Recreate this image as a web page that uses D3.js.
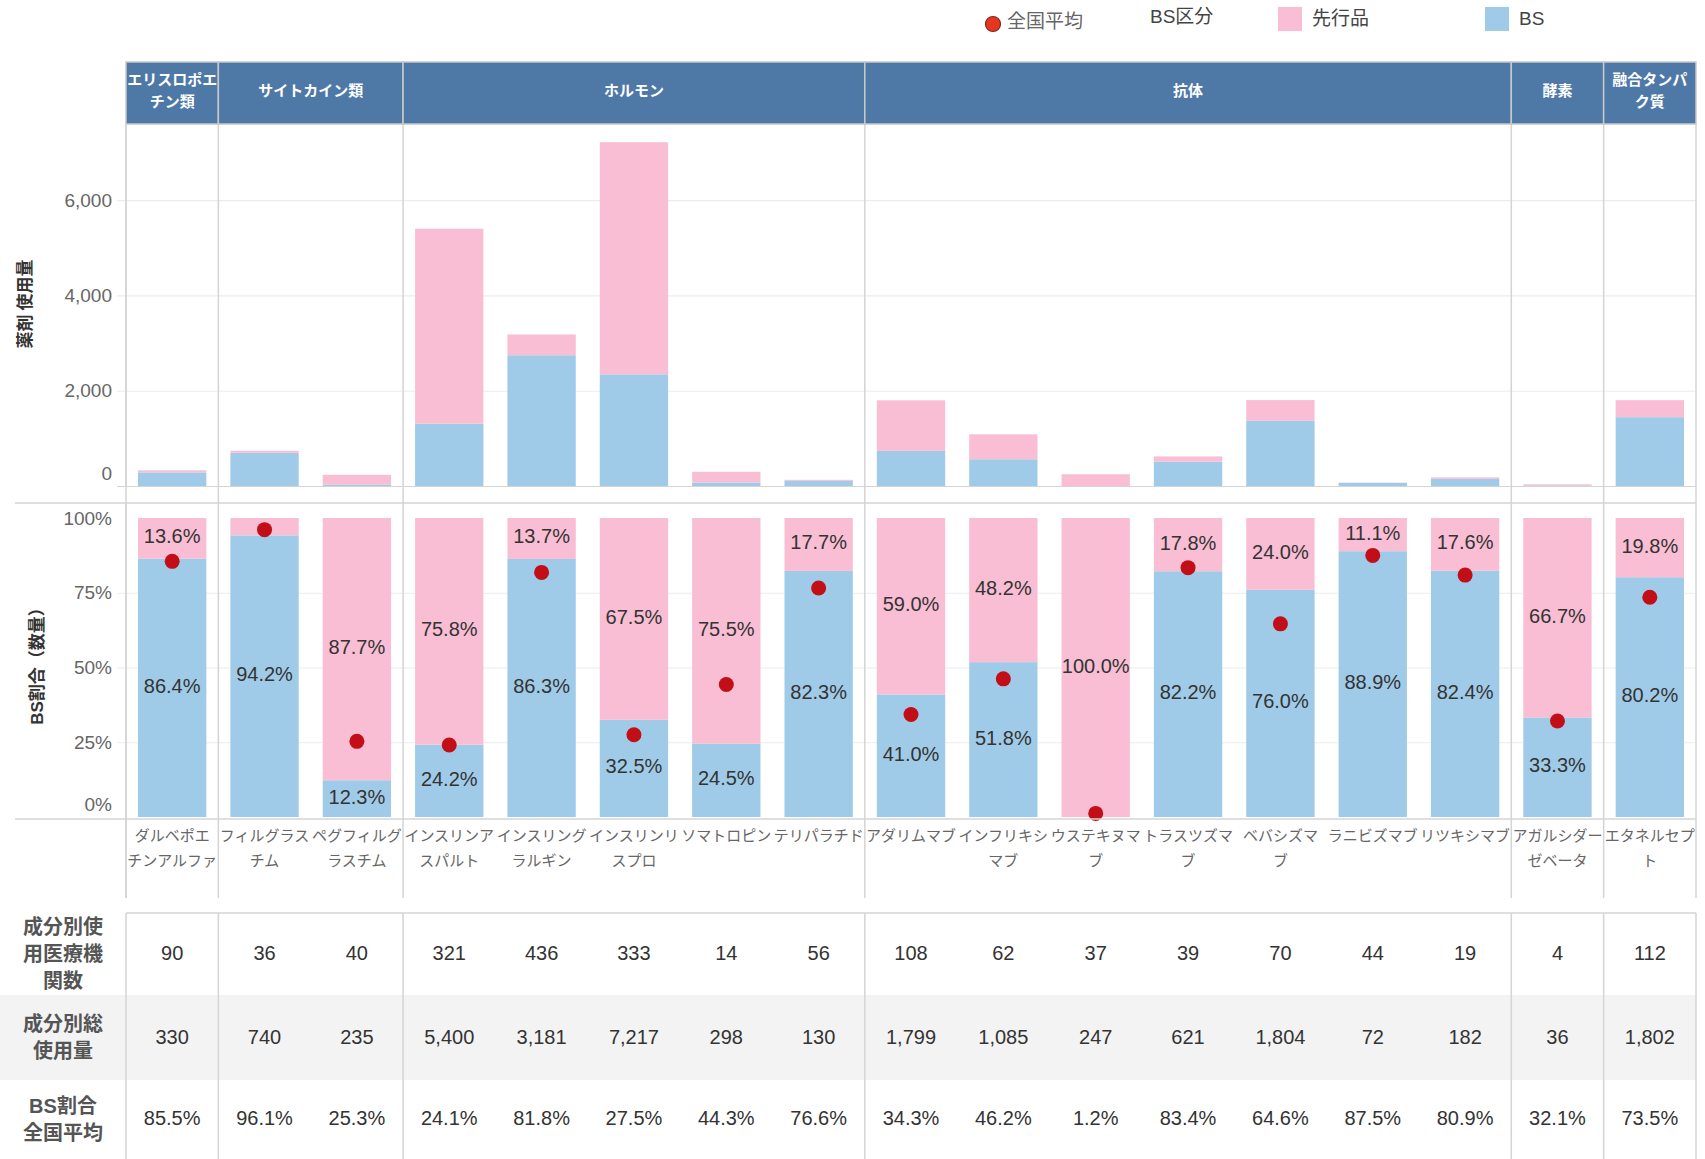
<!DOCTYPE html>
<html>
<head>
<meta charset="utf-8">
<script src="https://cdn.jsdelivr.net/npm/d3@7"></script>
<style>
  body { margin: 0; background: #fff; }
  text { font-family: "Liberation Sans", "Noto Sans CJK JP", sans-serif; }
  .jp { font-family: "Noto Sans CJK JP", sans-serif; }
</style>
</head>
<body>
<div id="chart"></div>
<script>
// data
var drugs = ["ダルベポエ\nチンアルファ", "フィルグラス\nチム", "ペグフィルグ\nラスチム", "インスリンア\nスパルト",
             "インスリング\nラルギン", "インスリンリ\nスプロ", "ソマトロピン", "テリパラチド", "アダリムマブ",
             "インフリキシ\nマブ", "ウステキヌマ\nブ", "トラスツズマ\nブ", "ベバシズマ\nブ", "ラニビズマブ",
             "リツキシマブ", "アガルシダー\nゼベータ", "エタネルセプ\nト"];
var groups = ["エリスロポエ\nチン類", "サイトカイン類", "ホルモン", "抗体", "酵素", "融合タンパ\nク質"];
var drugGroup = [0, 1, 1, 2, 2, 2, 2, 2, 3, 3, 3, 3, 3, 3, 3, 4, 5];
var totalUse = [330, 740, 235, 5400, 3181, 7217, 298, 130, 1799, 1085, 247, 621, 1804, 72, 182, 36, 1802];
var bsShare = [86.4, 94.2, 12.3, 24.2, 86.3, 32.5, 24.5, 82.3, 41.0, 51.8, 0.0, 82.2, 76.0, 88.9, 82.4, 33.3, 80.2];
var natAvg = [85.5, 96.1, 25.3, 24.1, 81.8, 27.5, 44.3, 76.6, 34.3, 46.2, 1.2, 83.4, 64.6, 87.5, 80.9, 32.1, 73.5];
var hospitals = [90, 36, 40, 321, 436, 333, 14, 56, 108, 62, 37, 39, 70, 44, 19, 4, 112];
var useTicks = [0, 2000, 4000, 6000];
var shareTicks = [0, 0.25, 0.5, 0.75, 1];
var rowTitles = ["成分別使\n用医療機\n関数", "成分別総\n使用量", "BS割合\n全国平均"];
var legendItems = ["先行品", "BS"];

var W = 1705, H = 1159,
    left = 126, right = 1696,
    headTop = 62, headBot = 124,
    topBase = 486,
    botTop = 503, botBot = 819,
    labBot = 898,
    tabTop = 913;

var pink = "#f9bed3", blue = "#a0cbe8", line = "#d4d4d4", grid = "#ececec";

// rows built from the arrays
var rows = drugs.map(function(d, i) {
  var bs = totalUse[i] * bsShare[i] / 100;
  return { i: i, bs: bs, orig: totalUse[i] - bs, bsP: bsShare[i] / 100, origP: 1 - bsShare[i] / 100 };
});

var svg = d3.select("#chart").append("svg")
  .attr("width", W).attr("height", H)
  .style("display", "block");

// scales
var xCol = d3.scaleBand().domain(d3.range(drugs.length)).range([left, right]);
var x = d3.scaleBand().domain(d3.range(drugs.length)).range([left, right])
  .paddingInner(0.26).paddingOuter(0.13);
var yUse = d3.scaleLinear().domain([0, 7600]).range([topBase, headBot]);
var yShare = d3.scaleLinear().domain([0, 1]).range([817, 518]);
var color = d3.scaleOrdinal().domain(["orig", "bs"]).range([pink, blue]);

function multiline(sel, txt, lh, fs) {
  var parts = txt.split("\n");
  parts.forEach(function(p, k) {
    sel.append("tspan").attr("x", sel.attr("x"))
      .attr("dy", k == 0 ? (-(parts.length - 1) * lh / 2 + fs * 0.36) : lh)
      .text(p);
  });
}

// ---- table banding (drawn first so lines sit above it)
var rowH = [[913, 995], [995, 1080], [1080, 1159]];
svg.append("rect").attr("x", 0).attr("y", rowH[1][0]).attr("width", right).attr("height", rowH[1][1] - rowH[1][0])
  .attr("fill", "#f3f3f3");

// ---- gridlines
svg.append("g").selectAll("line").data(useTicks).enter().append("line")
  .attr("x1", 117).attr("x2", right)
  .attr("y1", function(d) { return yUse(d) + 0.5; }).attr("y2", function(d) { return yUse(d) + 0.5; })
  .attr("stroke", function(d) { return d == 0 ? line : grid; }).attr("stroke-width", 1.2);
svg.append("g").selectAll("line").data(shareTicks.slice(1, 4)).enter().append("line")
  .attr("x1", 117).attr("x2", right)
  .attr("y1", function(d) { return yShare(d) + 0.5; }).attr("y2", function(d) { return yShare(d) + 0.5; })
  .attr("stroke", grid).attr("stroke-width", 1.2);

// ---- top panel: stacked usage
var stackUse = d3.stack().keys(["bs", "orig"])(rows);
svg.append("g").selectAll("g").data(stackUse).enter().append("g")
  .attr("fill", function(s) { return color(s.key); })
  .selectAll("rect").data(function(s) { return s; }).enter().append("rect")
  .attr("x", function(d) { return x(d.data.i); })
  .attr("width", x.bandwidth())
  .attr("y", function(d) { return yUse(d[1]); })
  .attr("height", function(d) { return yUse(d[0]) - yUse(d[1]); });

// ---- bottom panel: 100% stacked share
var stackShare = d3.stack().keys(["bsP", "origP"])(rows);
var keyOf = { bsP: "bs", origP: "orig" };
var shareG = svg.append("g").selectAll("g").data(stackShare).enter().append("g")
  .attr("fill", function(s) { return color(keyOf[s.key]); });
shareG.selectAll("rect").data(function(s) { return s; }).enter().append("rect")
  .attr("x", function(d) { return x(d.data.i); })
  .attr("width", x.bandwidth())
  .attr("y", function(d) { return yShare(d[1]); })
  .attr("height", function(d) { return yShare(d[0]) - yShare(d[1]); });

// share labels, only where the piece is big enough
var labs = [];
stackShare.forEach(function(s) {
  s.forEach(function(d) { if (d[1] - d[0] >= 0.08) labs.push(d); });
});
svg.append("g").selectAll("text").data(labs).enter().append("text")
  .attr("x", function(d) { return x(d.data.i) + x.bandwidth() / 2; })
  .attr("y", function(d) { return yShare((d[0] + d[1]) / 2) + 5; })
  .attr("text-anchor", "middle")
  .attr("font-size", 20).attr("fill", "#333")
  .text(function(d) { return d3.format(".1%")(d[1] - d[0]); });

// national average dots
svg.append("g").selectAll("circle").data(natAvg).enter().append("circle")
  .attr("cx", function(d, i) { return x(i) + x.bandwidth() / 2; })
  .attr("cy", function(d) { return yShare(d / 100); })
  .attr("r", 7.5).attr("fill", "#c20e16");

// ---- frame lines
var frame = svg.append("g").attr("stroke", line).attr("stroke-width", 1.5).attr("fill", "none");
frame.append("line").attr("x1", 15).attr("x2", right).attr("y1", botTop).attr("y2", botTop);
frame.append("line").attr("x1", 15).attr("x2", right).attr("y1", botBot).attr("y2", botBot);
frame.append("line").attr("x1", left).attr("x2", right).attr("y1", tabTop).attr("y2", tabTop);

// group boundaries
var bounds = [0];
drugGroup.forEach(function(g, i) { if (i > 0 && g != drugGroup[i - 1]) bounds.push(i); });
bounds.push(drugs.length);
var bx = bounds.map(function(b) { return b < drugs.length ? xCol(b) : right; });
bx.forEach(function(v) {
  frame.append("line").attr("x1", v).attr("x2", v).attr("y1", headBot).attr("y2", labBot);
  frame.append("line").attr("x1", v).attr("x2", v).attr("y1", tabTop).attr("y2", H);
});

// ---- header band
var head = svg.append("g");
groups.forEach(function(g, k) {
  head.append("rect").attr("x", bx[k]).attr("y", headTop).attr("width", bx[k + 1] - bx[k]).attr("height", headBot - headTop)
    .attr("fill", "#4e79a7").attr("stroke", "#c8c8c8").attr("stroke-width", 1.5);
  var t = head.append("text").attr("class", "jp")
    .attr("x", (bx[k] + bx[k + 1]) / 2).attr("y", (headTop + headBot) / 2 - 2)
    .attr("text-anchor", "middle").attr("font-size", 15).attr("font-weight", "bold").attr("fill", "#fff");
  multiline(t, g, 22, 15);
});

// ---- axes
var axUse = svg.append("g").attr("transform", "translate(" + left + ",0)")
  .call(d3.axisLeft(yUse).tickValues(useTicks).tickSize(0).tickPadding(14).tickFormat(d3.format(",")));
var axShare = svg.append("g").attr("transform", "translate(" + left + ",0)")
  .call(d3.axisLeft(yShare).tickValues(shareTicks).tickSize(0).tickPadding(14).tickFormat(d3.format(".0%")));
[axUse, axShare].forEach(function(ax) {
  ax.select(".domain").attr("stroke", line).attr("stroke-width", 1.5);
  ax.selectAll("text").attr("font-size", 19).attr("fill", "#666").attr("font-family", "Liberation Sans");
  ax.selectAll(".tick").filter(function(d) { return d == 0; }).select("text").attr("dy", "-0.35em");
});
axShare.select(".domain").attr("d", "M0," + botTop + "V" + labBot);
axUse.select(".domain").attr("d", "M0," + headBot + "V" + topBase);

svg.append("text").attr("class", "jp").attr("transform", "translate(31,304) rotate(-90)")
  .attr("text-anchor", "middle").attr("font-size", 17).attr("font-weight", "bold").attr("fill", "#333")
  .text("薬剤 使用量");
svg.append("text").attr("transform", "translate(43,662) rotate(-90)")
  .attr("text-anchor", "middle").attr("font-size", 17).attr("font-weight", "bold").attr("fill", "#333")
  .text("BS割合（数量）");

// ---- category labels
var cat = svg.append("g").selectAll("text").data(drugs).enter().append("text")
  .attr("class", "jp")
  .attr("x", function(d, i) { return xCol(i) + xCol.bandwidth() / 2; })
  .attr("y", 849)
  .attr("text-anchor", "middle").attr("font-size", 15).attr("fill", "#666");
cat.each(function(d) {
  var t = d3.select(this);
  d.split("\n").forEach(function(p, k) {
    t.append("tspan").attr("x", t.attr("x")).attr("y", 841 + k * 25).text(p);
  });
});

// ---- table
var tableRows = [hospitals.map(d3.format(",")), totalUse.map(d3.format(",")),
                 natAvg.map(function(v) { return d3.format(".1f")(v) + "%"; })];
var rowMid = [953, 1037, 1118];
tableRows.forEach(function(vals, r) {
  svg.append("g").selectAll("text").data(vals).enter().append("text")
    .attr("x", function(d, i) { return xCol(i) + xCol.bandwidth() / 2; })
    .attr("y", rowMid[r] + 7)
    .attr("text-anchor", "middle").attr("font-size", 20).attr("fill", "#333")
    .text(function(d) { return d; });
  var t = svg.append("text").attr("x", 63).attr("y", (rowH[r][0] + rowH[r][1]) / 2)
    .attr("text-anchor", "middle").attr("font-size", 20).attr("font-weight", "bold").attr("fill", "#555");
  multiline(t, rowTitles[r], 27, 20);
});

// ---- legend
var lg = svg.append("g");
lg.append("circle").attr("cx", 993).attr("cy", 24).attr("r", 7.5).attr("fill", "#e6361e").attr("stroke", "#7d2a1f").attr("stroke-width", 1.2);
lg.append("text").attr("class", "jp").attr("x", 1007).attr("y", 28).attr("font-size", 19).attr("fill", "#666").text("全国平均");
lg.append("text").attr("x", 1150).attr("y", 23).attr("font-size", 19).attr("fill", "#444").text("BS区分");
var lgx = [1278, 1485];
legendItems.forEach(function(name, k) {
  lg.append("rect").attr("x", lgx[k]).attr("y", 7).attr("width", 24).attr("height", 24).attr("fill", color(k == 0 ? "orig" : "bs"));
  lg.append("text").attr("x", lgx[k] + 34).attr("y", 25).attr("font-size", 19).attr("fill", "#444").text(name);
});
</script>
</body>
</html>
